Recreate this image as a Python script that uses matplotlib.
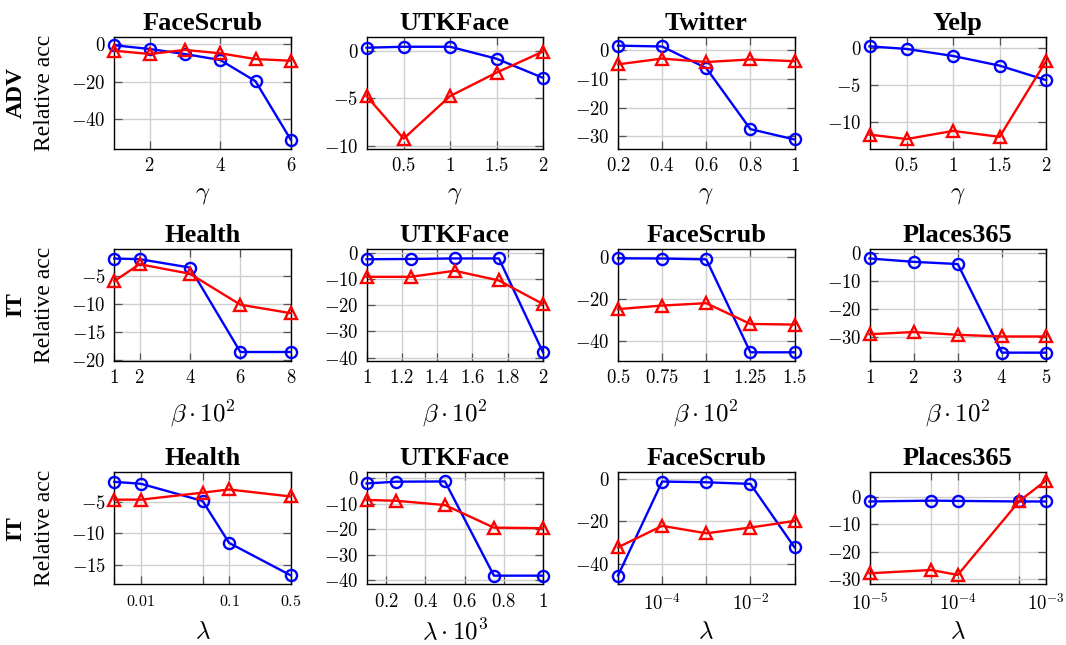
import matplotlib
matplotlib.use('Agg')
import matplotlib.pyplot as plt
from matplotlib.ticker import FixedLocator, FixedFormatter, NullLocator

plt.rcParams['mathtext.fontset'] = 'cm'
plt.rcParams['font.family'] = ['Liberation Serif', 'DejaVu Serif']

# ---- data ----
# row 1: ADV, gamma
fs_gamma = [1, 2, 3, 4, 5, 6]
fs_gamma_blue = [-0.5, -2.5, -5.2, -8.4, -19.8, -51.2]
fs_gamma_red = [-3.4, -5.2, -3.0, -4.8, -7.9, -8.8]

utk_gamma = [0.1, 0.5, 1, 1.5, 2]
utk_gamma_blue = [0.3, 0.4, 0.4, -0.85, -2.85]
utk_gamma_red = [-4.75, -9.2, -4.75, -2.3, -0.1]

tw_gamma = [0.2, 0.4, 0.6, 0.8, 1]
tw_gamma_blue = [1.5, 1.2, -6.3, -27.5, -31.1]
tw_gamma_red = [-5.0, -3.0, -4.2, -3.3, -3.9]

yelp_gamma = [0.1, 0.5, 1, 1.5, 2]
yelp_gamma_blue = [0.2, -0.15, -1.1, -2.4, -4.35]
yelp_gamma_red = [-11.7, -12.3, -11.2, -12.0, -1.8]

# row 2: IT, beta * 10^2
health_beta = [1, 2, 4, 6, 8]
health_beta_blue = [-1.9, -2.0, -3.5, -18.5, -18.5]
health_beta_red = [-5.9, -2.9, -4.6, -10.1, -11.6]

utk_beta = [1, 1.25, 1.5, 1.75, 2]
utk_beta_blue = [-2.5, -2.4, -2.2, -2.2, -38.0]
utk_beta_red = [-9.2, -9.2, -6.9, -10.6, -19.6]

fs_beta = [0.5, 0.75, 1, 1.25, 1.5]
fs_beta_blue = [-0.8, -0.9, -1.3, -45.2, -45.2]
fs_beta_red = [-24.8, -23.1, -22.0, -31.8, -32.1]

pl_beta = [1, 2, 3, 4, 5]
pl_beta_blue = [-1.8, -3.0, -3.8, -35.6, -35.6]
pl_beta_red = [-29.0, -28.2, -29.2, -29.8, -29.8]

# row 3: IT, lambda
health_lam = [0.005, 0.01, 0.05, 0.1, 0.5]
health_lam_blue = [-1.9, -2.2, -4.9, -11.5, -16.6]
health_lam_red = [-4.7, -4.7, -3.6, -3.1, -4.2]

utk_lam = [0.1, 0.25, 0.5, 0.75, 1]
utk_lam_blue = [-2.0, -1.3, -1.2, -38.3, -38.3]
utk_lam_red = [-8.5, -8.8, -10.5, -19.4, -19.6]

fs_lam = [1e-5, 1e-4, 1e-3, 1e-2, 1e-1]
fs_lam_blue = [-45.5, -1.25, -1.6, -2.35, -32.2]
fs_lam_red = [-32.2, -22.1, -25.6, -22.9, -19.8]

pl_lam = [1e-5, 5e-5, 1e-4, 5e-4, 1e-3]
pl_lam_blue = [-1.8, -1.5, -1.6, -1.8, -1.8]
pl_lam_red = [-27.9, -26.7, -28.5, -1.6, 5.8]


def tex(v):
    return '$%g$' % v


panels = [
    # title, x, blue, red, ylim, xticks, xticklabels, yticks, xlabel, log
    ('FaceScrub', fs_gamma, fs_gamma_blue, fs_gamma_red, (-56, 4.1),
     [2, 4, 6], None, [0, -20, -40], r'$\gamma$', False),
    ('UTKFace', utk_gamma, utk_gamma_blue, utk_gamma_red, (-10.25, 1.45),
     [0.5, 1, 1.5, 2], None, [0, -5, -10], r'$\gamma$', False),
    ('Twitter', tw_gamma, tw_gamma_blue, tw_gamma_red, (-34.3, 4.6),
     [0.2, 0.4, 0.6, 0.8, 1], None, [0, -10, -20, -30], r'$\gamma$', False),
    ('Yelp', yelp_gamma, yelp_gamma_blue, yelp_gamma_red, (-13.6, 1.5),
     [0.5, 1, 1.5, 2], None, [0, -5, -10], r'$\gamma$', False),

    ('Health', health_beta, health_beta_blue, health_beta_red, (-20.1, -0.2),
     [1, 2, 4, 6, 8], None, [-5, -10, -15, -20], r'$\beta\cdot10^2$', False),
    ('UTKFace', utk_beta, utk_beta_blue, utk_beta_red, (-41.3, 1.4),
     [1, 1.2, 1.4, 1.6, 1.8, 2], None, [0, -10, -20, -30, -40], r'$\beta\cdot10^2$', False),
    ('FaceScrub', fs_beta, fs_beta_blue, fs_beta_red, (-49.3, 3.6),
     [0.5, 0.75, 1, 1.25, 1.5], None, [0, -20, -40], r'$\beta\cdot10^2$', False),
    ('Places365', pl_beta, pl_beta_blue, pl_beta_red, (-38.6, 1.6),
     [1, 2, 3, 4, 5], None, [0, -10, -20, -30], r'$\beta\cdot10^2$', False),

    ('Health', health_lam, health_lam_blue, health_lam_red, (-18, -0.4),
     health_lam, ['', '$0.01$', '', '$0.1$', '$0.5$'], [-5, -10, -15], r'$\lambda$', True),
    ('UTKFace', utk_lam, utk_lam_blue, utk_lam_red, (-41.7, 2.4),
     [0.2, 0.4, 0.6, 0.8, 1], None, [0, -10, -20, -30, -40], r'$\lambda\cdot10^3$', False),
    ('FaceScrub', fs_lam, fs_lam_blue, fs_lam_red, (-49.6, 3.1),
     fs_lam, ['', '$10^{-4}$', '', '$10^{-2}$', ''], [0, -20, -40], r'$\lambda$', True),
    ('Places365', pl_lam, pl_lam_blue, pl_lam_red, (-31.9, 8.8),
     pl_lam, ['$10^{-5}$', '', '$10^{-4}$', '', '$10^{-3}$'], [0, -10, -20, -30], r'$\lambda$', True),
]

row_names = ['ADV', 'IT', 'IT']

W, H = 1066, 645
fig = plt.figure(figsize=(W / 100, H / 100), dpi=100)

col_left = [114.3, 366.5, 618, 869.5]
row_top = [36.7, 249, 472.3]
ax_w, ax_h = 176.5, 112
xlabel_off = [46, 53, 48]

for i, p in enumerate(panels):
    title, x, blue, red, ylim, xt, xtl, yt, xlab, logx = p
    r, c = divmod(i, 4)
    left = col_left[c] / W
    bottom = 1 - (row_top[r] + ax_h) / H
    ax = fig.add_axes([left, bottom, ax_w / W, ax_h / H])

    ax.plot(x, blue, color='blue', lw=1.7, marker='o', ms=8, mfc='none',
            mew=1.7, clip_on=False, zorder=3)
    ax.plot(x, red, color='red', lw=1.7, marker='^', ms=8, mfc='none',
            mew=1.7, clip_on=False, zorder=4)

    if logx:
        ax.set_xscale('log')
    ax.set_xlim(x[0], x[-1])
    ax.set_ylim(*ylim)

    ax.xaxis.set_major_locator(FixedLocator(xt))
    ax.xaxis.set_major_formatter(FixedFormatter(xtl if xtl else [tex(v) for v in xt]))
    ax.xaxis.set_minor_locator(NullLocator())
    ax.yaxis.set_major_locator(FixedLocator(yt))
    ax.yaxis.set_major_formatter(FixedFormatter([tex(v) for v in yt]))
    ax.yaxis.set_minor_locator(NullLocator())

    ax.grid(True, color='#cfcfcf', lw=1.0)
    ax.set_axisbelow(True)
    ax.tick_params(direction='in', top=True, right=True, length=5.5, width=0.9,
                   color='#555555', labelsize=13.5)
    ax.tick_params(axis='x', pad=6)
    ax.tick_params(axis='y', pad=6)
    if i == 8:
        ax.tick_params(axis='x', labelsize=11.5, pad=7)
    for s in ax.spines.values():
        s.set_linewidth(1.0)

    ax.set_title(title, fontsize=19, fontweight='bold', pad=5)
    ax.set_xlabel(xlab, fontsize=18)
    ax.xaxis.set_label_coords(0.5, -xlabel_off[r] / ax_h)
    ax.xaxis.label.set_va('center')

for r in range(3):
    yc = 1 - (row_top[r] + ax_h / 2) / H
    fig.text(16.2 / W, yc, row_names[r], rotation=90, fontsize=17,
             fontweight='bold', ha='center', va='center')
    fig.text(44.8 / W, yc, 'Relative acc', rotation=90, fontsize=17,
             ha='center', va='center')

plt.savefig('out.png', dpi=100)
